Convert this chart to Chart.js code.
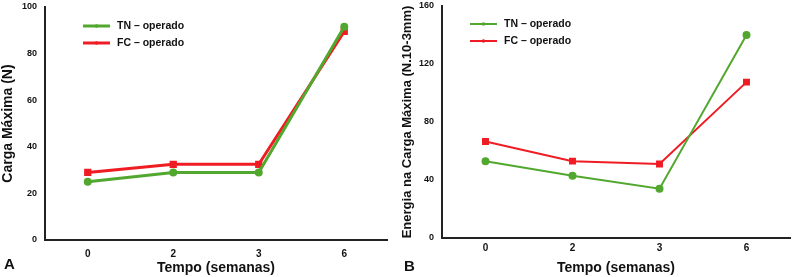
<!DOCTYPE html>
<html>
<head>
<meta charset="utf-8">
<script src="https://cdn.jsdelivr.net/npm/chart.js@4/dist/chart.umd.min.js"></script>
<style>
  body { margin: 0; background: #fff; }
  .panel { position: absolute; top: 0; width: 400px; height: 277px; }
  .letter { position: absolute; font: bold 15px "Liberation Sans", Arial, sans-serif; color: #111; }
</style>
</head>
<body>
<div class="panel" style="left:0"><canvas id="chartA" width="400" height="277"></canvas></div>
<div class="panel" style="left:400px"><canvas id="chartB" width="400" height="277"></canvas></div>
<div class="letter" style="left:4px; top:255px">A</div>
<div class="letter" style="left:404px; top:257px">B</div>
<script>
// tempo (semanas)
const weeks = ['0', '2', '3', '6'];

// A: carga maxima (N)
const cargaTN = [25, 29, 29, 91.5];
const cargaFC = [29, 32.5, 32.5, 89.5];

// B: energia na carga maxima
const energiaTN = [53, 43, 34, 140];
const energiaFC = [66.5, 53, 51, 107.5];

const seriesNames = ['TN \u2013 operado', 'FC \u2013 operado'];
const green = '#52a72f';
const red = '#ef1c24';
const fontFamily = '"Liberation Sans", Arial, sans-serif';

// legend drawn inside the plot area
const innerLegend = {
    id: 'innerLegend',
    afterDraw(chart, args, opts) {
        let ctx = chart.ctx;
        ctx.save();
        ctx.font = 'bold 10.5px ' + fontFamily;
        ctx.textBaseline = 'middle';
        chart.data.datasets.forEach((ds, i) => {
            let y = opts.y + i * opts.gap;
            ctx.strokeStyle = ds.borderColor;
            ctx.lineWidth = ds.borderWidth;
            ctx.beginPath();
            ctx.moveTo(opts.x, y);
            ctx.lineTo(opts.x + opts.len, y);
            ctx.stroke();
            ctx.fillStyle = ds.borderColor;
            ctx.beginPath();
            ctx.arc(opts.x + opts.len / 2, y, 1.8, 0, Math.PI * 2);
            ctx.fill();
            ctx.fillStyle = '#111';
            ctx.fillText(ds.label, opts.x + opts.len + 7, y + 0.5);
        });
        ctx.restore();
    }
};

function makeChart(id, tn, fc, yMax, yStep, yTitle, lineW, ptR, legendPos, yWidth, titleSize, xHeight, tickPad, rightPad) {
    return new Chart(document.getElementById(id), {
        type: 'line',
        data: {
            labels: weeks,
            datasets: [{
                label: seriesNames[0],
                data: tn,
                borderColor: green,
                backgroundColor: green,
                borderWidth: lineW,
                pointRadius: ptR,
                pointStyle: 'circle',
                tension: 0
            }, {
                label: seriesNames[1],
                data: fc,
                borderColor: red,
                backgroundColor: red,
                borderWidth: lineW,
                pointRadius: ptR + 0.5,
                pointStyle: 'rect',
                tension: 0
            }]
        },
        options: {
            responsive: false,
            animation: false,
            layout: { padding: { top: 5, right: rightPad, bottom: 0, left: 0 } },
            plugins: {
                legend: { display: false },
                tooltip: { enabled: false },
                innerLegend: legendPos
            },
            scales: {
                x: {
                    offset: true,
                    grid: { display: false, drawTicks: false },
                    border: { color: '#222', width: 2 },
                    ticks: { color: '#111', font: { family: fontFamily, weight: 'bold', size: 10 }, padding: tickPad },
                    title: { display: true, text: 'Tempo (semanas)', color: '#111', font: { family: fontFamily, weight: 'bold', size: 14 }, padding: { top: 0, bottom: 0 } },
                    afterFit: (s) => { s.height = xHeight; }
                },
                y: {
                    min: 0,
                    max: yMax,
                    grid: { display: false, drawOnChartArea: false, drawTicks: true, tickLength: 4, tickColor: '#222', tickWidth: 1.5 },
                    border: { color: '#222', width: 2 },
                    ticks: { stepSize: yStep, color: '#111', font: { family: fontFamily, weight: 'bold', size: 9 }, padding: 4 },
                    title: { display: true, text: yTitle, color: '#111', font: { family: fontFamily, weight: 'bold', size: titleSize }, padding: { top: 0, bottom: 2 } },
                    afterFit: (s) => { s.width = yWidth; s.paddingTop = 0; }
                }
            }
        },
        plugins: [innerLegend]
    });
}

makeChart('chartA', cargaTN, cargaFC, 100, 20, 'Carga M\u00e1xima (N)', 3, 2.5,
    { x: 83, y: 26, gap: 17, len: 27 }, 45, 14, 37, 8, 13);
makeChart('chartB', energiaTN, energiaFC, 160, 40, 'Energia na Carga M\u00e1xima (N.10-3mm)', 2, 3,
    { x: 70, y: 24, gap: 17, len: 27 }, 42, 13, 39, 4, 10);
</script>
</body>
</html>
